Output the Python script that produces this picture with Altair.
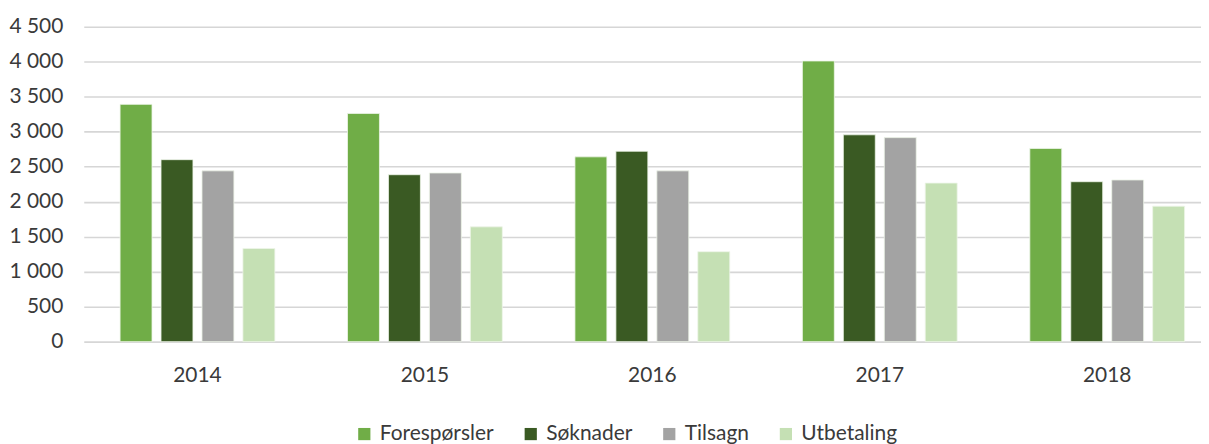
import altair as alt
import pandas as pd

years = ["2014", "2015", "2016", "2017", "2018"]
series = ["Forespørsler", "Søknader", "Tilsagn", "Utbetaling"]
foresporsler = [3390, 3260, 2640, 4010, 2760]
soknader = [2600, 2385, 2720, 2955, 2285]
tilsagn = [2440, 2410, 2440, 2915, 2310]
utbetaling = [1330, 1640, 1285, 2265, 1935]
colors = ["#70AD47", "#3A5A23", "#A3A3A3", "#C5E0B4"]
y_ticks = [0, 500, 1000, 1500, 2000, 2500, 3000, 3500, 4000, 4500]

rows = []
for name, vals in zip(series, [foresporsler, soknader, tilsagn, utbetaling]):
    for yr, v in zip(years, vals):
        rows.append({"year": yr, "series": name, "value": v})
df = pd.DataFrame(rows)

FONT = "Lato"
FS = 21
TXT = "#3A3A3A"

chart = alt.Chart(df).mark_bar(stroke="#EEF5E8", strokeWidth=0.8).encode(
    x=alt.X("year:N", sort=years, title=None,
            scale=alt.Scale(range=[0, 1141], paddingInner=0, paddingOuter=0),
            axis=alt.Axis(labelAngle=0, labelFontSize=FS, labelFont=FONT, labelColor=TXT,
                          labelPadding=23, ticks=False, domain=False, grid=False)),
    xOffset=alt.XOffset("series:N", sort=series,
                        scale=alt.Scale(paddingInner=0.22, paddingOuter=0.887)),
    y=alt.Y("value:Q", title=None,
            scale=alt.Scale(domain=[0, 4500], nice=False),
            axis=alt.Axis(values=y_ticks, labelFontSize=FS, labelFont=FONT, labelColor=TXT,
                          labelPadding=21, ticks=False, domain=False,
                          gridColor="#D6D6D6", gridWidth=1.6,
                          labelExpr="replace(format(datum.value, ','), ',', ' ')")),
    color=alt.Color("series:N", sort=series,
                    scale=alt.Scale(domain=series, range=colors),
                    legend=alt.Legend(title=None, orient="none", direction="horizontal",
                                      legendX=271, legendY=398,
                                      symbolType="square", symbolSize=150, symbolStrokeWidth=0,
                                      labelFontSize=FS, labelFont=FONT, labelColor=TXT,
                                      labelOffset=5, columnPadding=26)),
).properties(
    width=1121, height=316,
    autosize=alt.AutoSizeParams(type="none"),
    padding={"left": 76, "top": 18, "right": 0, "bottom": 110},
).configure_view(stroke=None)

chart.save("out.html", embed_options={"renderer": "svg", "actions": False})
